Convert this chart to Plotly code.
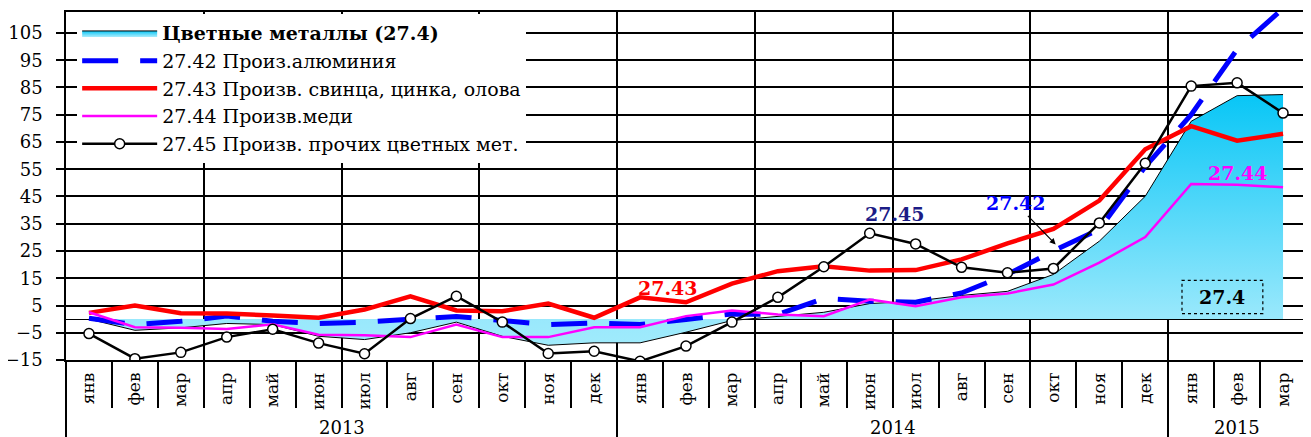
import plotly.graph_objects as go

months = ['янв', 'фев', 'мар', 'апр', 'май', 'июн', 'июл', 'авг', 'сен', 'окт', 'ноя', 'дек',
          'янв', 'фев', 'мар', 'апр', 'май', 'июн', 'июл', 'авг', 'сен', 'окт', 'ноя', 'дек',
          'янв', 'фев', 'мар']
years = ['2013', '2014', '2015']
year_centers = [5.5, 17.5, 25]

metals = [0, -4.1, -3.2, -1.6, -2.0, -6.3, -7.5, -5.0, -1.1, -6.3, -9.6, -8.7,
          -8.7, -4.8, -0.5, 1.1, 2.5, 5.7, 6.6, 8.7, 10.2, 16.4, 28.6, 45.1,
          72.6, 82.0, 82.4]
aluminium = [0.3, -2.0, -0.8, 1.1, -0.8, -1.6, -1.1, -0.2, 1.0, -0.5, -2.0, -1.4,
             -2.0, -0.1, 1.9, 1.7, 7.6, 6.6, 6.2, 9.6, 16.4, 25.0, 33.0, 56.0,
             75.0, 99.0, 114.0]
lead_zinc = [2.3, 5.0, 2.2, 2.1, 1.3, 0.5, 3.5, 8.4, 3.2, 2.9, 5.7, 0.5,
             8.0, 6.2, 13.0, 17.6, 19.4, 17.8, 18.0, 21.9, 27.8, 33.1, 43.5, 62.3,
             70.8, 65.5, 68.0]
copper = [2.5, -3.0, -3.2, -3.6, -1.9, -5.7, -5.9, -6.6, -2.0, -6.6, -6.6, -3.0,
          -3.0, 1.1, 3.2, 1.7, 1.1, 7.2, 4.7, 8.0, 9.4, 12.7, 20.7, 30.1,
          49.6, 49.3, 48.4]
other = [-5.3, -14.5, -12.2, -6.6, -3.7, -8.8, -12.7, 0.2, 8.4, -1.1, -12.6, -11.8,
         -15.5, -9.9, -1.1, 8.0, 19.2, 31.5, 27.6, 19.0, 17.0, 18.6, 35.3, 57.2,
         85.5, 86.7, 75.6]

x = list(range(len(months)))
serif = 'DejaVu Serif'

fig = go.Figure()

# invisible traces so the helper x axes (grid / separators) get drawn
for ax in ['x2', 'x3', 'x4']:
    fig.add_trace(go.Scatter(x=[0], y=[0], xaxis=ax, yaxis='y', mode='markers',
                             marker=dict(opacity=0), showlegend=False, hoverinfo='skip'))

fig.add_trace(go.Scatter(
    x=x, y=metals, name='<b>Цветные металлы (27.4)</b>',
    mode='lines', fill='tozeroy',
    line=dict(color='black', width=1),
    fillgradient=dict(type='vertical',
                      colorscale=[[0, '#a0ebfc'], [0.12, '#98e8fc'], [1, '#08c6f6']]),
))
fig.add_trace(go.Scatter(
    x=x, y=aluminium, name='27.42 Произ.алюминия', mode='lines',
    line=dict(color='#0000ff', width=5, dash='36px,22px'),
))
fig.add_trace(go.Scatter(
    x=x, y=lead_zinc, name='27.43 Произв. свинца, цинка, олова', mode='lines',
    line=dict(color='#ff0000', width=4.5),
))
fig.add_trace(go.Scatter(
    x=x, y=copper, name='27.44 Произв.меди', mode='lines',
    line=dict(color='#ff00ff', width=2.5),
))
fig.add_trace(go.Scatter(
    x=x, y=other, name='27.45 Произв. прочих цветных мет.', mode='lines+markers',
    line=dict(color='black', width=2.5),
    marker=dict(symbol='circle', size=10, color='white', line=dict(color='black', width=1.5)),
))

for ax_name, vals, ticklen, grid in [
    ('xaxis2', [i + 0.5 for i in range(-1, 27)], 47, False),
    ('xaxis3', [2.5, 5.5, 8.5, 11.5, 14.5, 17.5, 20.5, 23.5], 0, True),
    ('xaxis4', [-0.5, 11.5, 23.5, 26.5], 77, False),
]:
    fig.update_layout(**{ax_name: dict(
        overlaying='x', anchor='y', side='bottom', range=[-0.5, 26.5], automargin=False,
        tickmode='array', tickvals=vals, showticklabels=False,
        ticks='outside' if ticklen else '', ticklen=ticklen, tickwidth=1.5, tickcolor='black',
        showgrid=grid, gridcolor='black', gridwidth=1.5, zeroline=False, layer='below traces',
    )})

for name, x_pos in zip(years, year_centers):
    fig.add_annotation(x=x_pos, y=-0.195, xref='x', yref='paper', text=name,
                       xanchor='center', yanchor='middle',
                       showarrow=False, font=dict(family=serif, size=18, color='black'))

lbl = dict(showarrow=False, xref='x', yref='y')
fig.add_annotation(x=12.6, y=11.6, text='<b>27.43</b>', font=dict(family=serif, size=19, color='#ff0000'), **lbl)
fig.add_annotation(x=17.55, y=38.4, text='<b>27.45</b>', font=dict(family=serif, size=19, color='#1c1c86'), **lbl)
fig.add_annotation(x=25.03, y=53.6, text='<b>27.44</b>', font=dict(family=serif, size=19, color='#ff00ff'), **lbl)
fig.add_annotation(x=24.68, y=8.1, text='<b>27.4</b>', font=dict(family=serif, size=19, color='black'), **lbl)
fig.add_annotation(x=21.05, y=27.4, xref='x', yref='y', text='<b>27.42</b>',
                   font=dict(family=serif, size=19, color='#0000ff'),
                   showarrow=True, arrowhead=2, arrowsize=1, arrowwidth=1.2, arrowcolor='black',
                   ax=-40, ay=-41, standoff=0)
fig.add_shape(type='rect', xref='x', yref='y', x0=23.8, x1=25.56, y0=2.05, y1=14.2,
              line=dict(color='black', width=1.2, dash='dot'))

# the page body has an 8px margin, so the margins are offset to land the plot where the reference has it
fig.update_layout(
    width=1311, height=437,
    margin=dict(l=58, r=13, t=4, b=85),
    paper_bgcolor='white', plot_bgcolor='white',
    showlegend=True,
    legend=dict(x=0.009, y=0.994, xanchor='left', yanchor='top', bgcolor='white',
                font=dict(family=serif, size=19, color='black'),
                itemwidth=75, tracegroupgap=0),
    xaxis=dict(range=[-0.5, 26.5], tickmode='array', tickvals=x, ticktext=months,
               tickangle=-90, showgrid=False, zeroline=False, ticks='', automargin=False,
               ticklabelstandoff=4,
               showline=True, mirror=True, linecolor='black', linewidth=1.5,
               tickfont=dict(family=serif, size=17, color='black')),
    yaxis=dict(range=[-15, 112.7], tickmode='array', tickvals=list(range(-15, 106, 10)),
               showgrid=True, gridcolor='black', gridwidth=1.5, automargin=False,
               zeroline=True, zerolinecolor='black', zerolinewidth=1,
               ticks='outside', ticklen=8, tickwidth=1.5, tickcolor='black',
               ticklabelstandoff=10,
               showline=True, mirror=True, linecolor='black', linewidth=1.5,
               tickfont=dict(family=serif, size=18, color='black')),
)

fig.write_html('out.html')
